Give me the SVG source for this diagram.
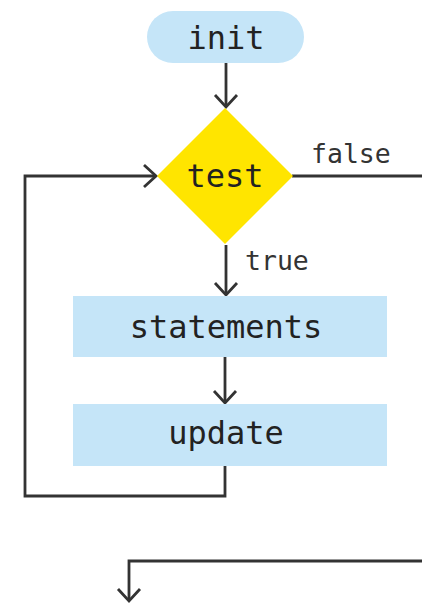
<svg xmlns="http://www.w3.org/2000/svg" width="422" height="604" viewBox="0 0 422 604">
  <style>
    .box { fill: #c5e5f8; }
    .dec { fill: #ffe500; }
    .lbl { font-family: "DejaVu Sans Mono", "Liberation Mono", monospace; font-size: 32px; fill: #222; text-anchor: middle; }
    .edge { font-family: "DejaVu Sans Mono", "Liberation Mono", monospace; font-size: 26.5px; fill: #333; }
    .wire { fill: none; stroke: #333; stroke-width: 2.8; }
  </style>
  <defs>
    <marker id="arrow" markerUnits="userSpaceOnUse" markerWidth="30" markerHeight="30" viewBox="-15 -15 30 30" refX="0" refY="0" orient="auto" overflow="visible">
      <path d="M-12,-11 L0,0 L-12,11" fill="none" stroke="#333" stroke-width="2.8"/>
    </marker>
  </defs>

  <!-- connectors -->
  <g id="connectors">
    <path class="wire" d="M226,63 V107" marker-end="url(#arrow)"/>
    <path class="wire" d="M226,245 V295" marker-end="url(#arrow)"/>
    <path class="wire" d="M225,357 V403" marker-end="url(#arrow)"/>
    <path class="wire" d="M225,466 V496 H25 V176 H156" marker-end="url(#arrow)"/>
    <path class="wire" d="M292,176 H422"/>
    <path class="wire" d="M422,561 H129 V601" marker-end="url(#arrow)"/>
    <text class="edge" x="311" y="163">false</text>
    <text class="edge" x="245" y="270">true</text>
  </g>

  <g id="init">
    <rect class="box" x="147" y="11" width="157" height="52" rx="26"/>
    <text class="lbl" x="226" y="49">init</text>
  </g>

  <g id="test">
    <polygon class="dec" points="225,108 293,176 225,244 157,176"/>
    <text class="lbl" x="225" y="187">test</text>
  </g>

  <g id="statements">
    <rect class="box" x="73" y="296" width="314" height="61"/>
    <text class="lbl" x="226" y="338">statements</text>
  </g>

  <g id="update">
    <rect class="box" x="73" y="404" width="314" height="62"/>
    <text class="lbl" x="226" y="444">update</text>
  </g>
</svg>
